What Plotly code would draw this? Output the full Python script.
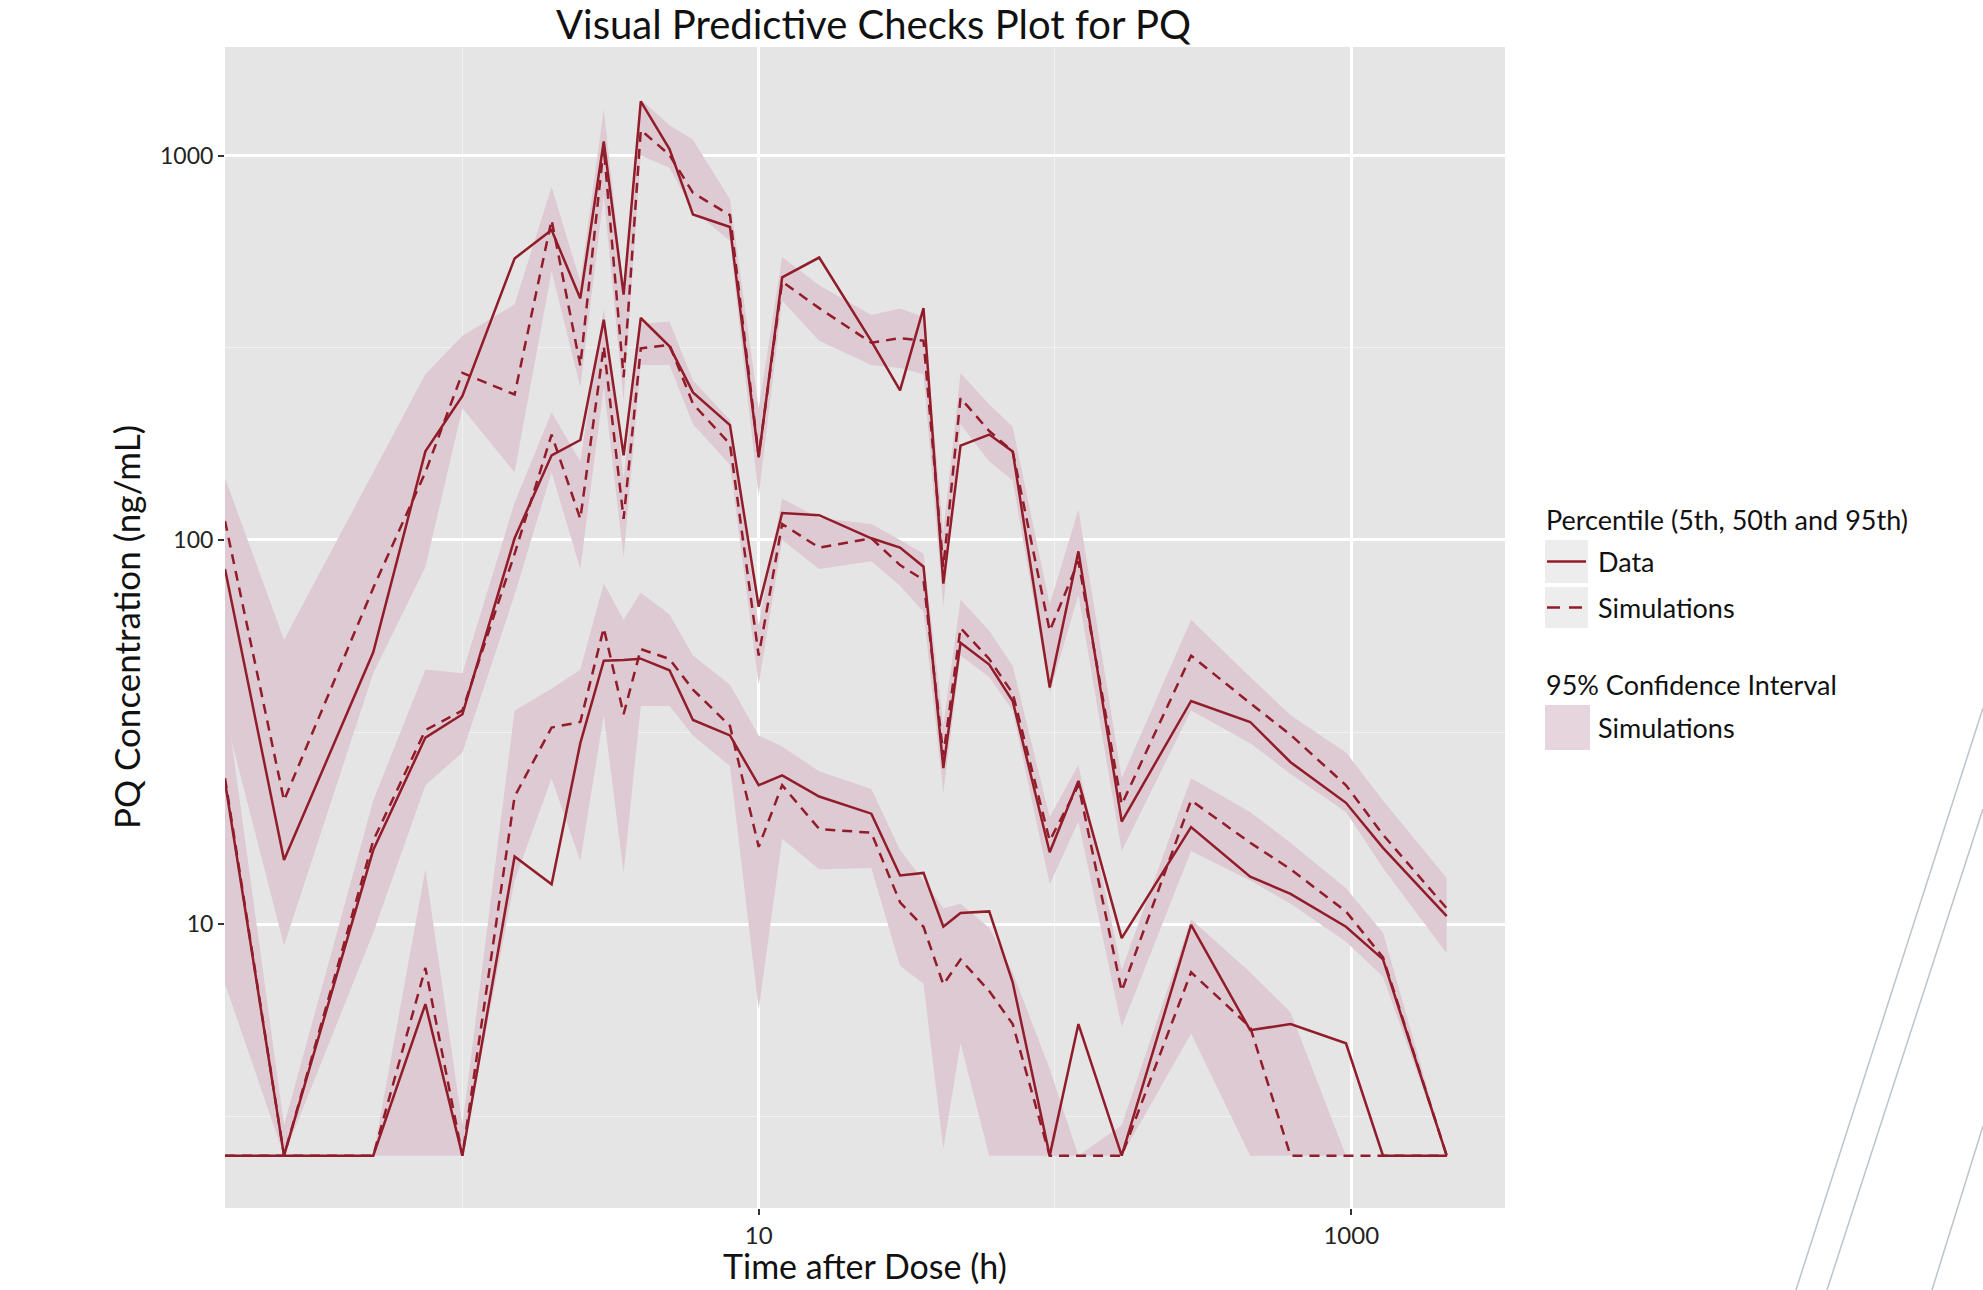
import numpy as np
import plotly.graph_objects as go

# ---------------- data ----------------
time_h = [0.158, 0.25, 0.5, 0.75, 1, 1.5, 2, 2.5, 3, 3.5, 4, 5, 6, 8, 10, 12, 16, 24,
          30, 36, 42, 48, 60, 72, 96, 120, 168, 288, 456, 624, 960, 1280, 2100]

data_p95 = [84, 14.7, 51, 170, 237, 540, 640, 425, 1088, 435, 1384, 1040, 703, 652, 164,
            482, 543, 329, 245, 401, 77, 176, 188, 170, 41.3, 93.4, 18.5, 38.1, 33.6,
            26.4, 20.7, 15.8, 10.5]
sim_p95 = [112, 21, 75, 150, 272, 239, 680, 284, 1052, 265, 1166, 1004, 800, 700, 165,
           470, 401, 326, 335, 330, 85, 234, 192, 170, 58, 88, 20.5, 50, 37.6, 31.1,
           23, 17.1, 11]
data_p50 = [23.5, 2.5, 15.6, 30.6, 35.2, 101, 166, 182, 374, 166, 378, 319, 242, 199, 67,
            117.5, 116, 101, 95.5, 85.2, 25.5, 54, 47.4, 38.1, 15.4, 23.6, 9.2, 17.9,
            13.3, 12.0, 9.85, 8.1, 2.5]
sim_p50 = [24, 2.5, 16.5, 32, 36, 92, 188, 113.5, 319, 113.5, 315, 322, 226, 177.6, 50,
           110, 95.5, 101, 86, 78.7, 27.5, 59, 49, 39.9, 16.5, 23, 6.7, 21, 16.3, 13.9,
           10.8, 8.2, 2.5]
data_p05 = [2.5, 2.5, 2.5, 6.2, 2.5, 15.0, 12.7, 29.6, 48.5, 48.7, 49.1, 45.8, 34, 31, 23,
            24.4, 21.5, 19.4, 13.4, 13.6, 9.85, 10.7, 10.8, 7.06, 2.5, 5.5, 2.5, 9.96,
            5.3, 5.5, 4.9, 2.5, 2.5]
sim_p05 = [2.5, 2.5, 2.5, 7.7, 2.5, 21.5, 32.5, 33.6, 59, 35.2, 52, 49, 40.8, 32.8, 15.9,
           23, 17.7, 17.3, 11.4, 9.85, 6.97, 8.1, 6.7, 5.5, 2.5, 2.5, 2.5, 7.5, 5.4, 2.5,
           2.5, 2.5, 2.5]

ci95_lo = [35, 8.8, 45, 85, 220, 150, 500, 250, 790, 230, 1000, 930, 720, 600, 130, 420,
           330, 285, 280, 270, 67, 200, 160, 143, 40, 72, 15.5, 36, 29.6, 24.6, 19.6, 14, 8.4]
ci95_hi = [145, 55, 150, 270, 340, 410, 830, 470, 1320, 450, 1400, 1200, 1100, 770, 220,
           545, 460, 385, 400, 380, 105, 272, 225, 197, 68, 120, 24, 62, 44, 35, 28, 21, 13.2]
ci50_lo = [7, 2.5, 9.5, 23, 28, 72, 150, 84, 250, 90, 285, 285, 200, 157, 42, 100, 84, 88,
           76, 65, 22, 50, 44, 36, 12.7, 18.5, 5.4, 15.5, 13, 11.3, 9, 7.3, 2.5]
ci50_hi = [40, 3, 21, 46, 45, 125, 215, 160, 400, 145, 365, 370, 260, 205, 60, 128, 114,
           110, 100, 92, 33, 70, 58, 47, 19, 26, 7.6, 24, 19.6, 16.3, 12.4, 9.5, 2.5]
ci05_lo = [2.5, 2.5, 2.5, 2.5, 2.5, 13, 24, 14.6, 35, 13.6, 37, 37, 31, 25.8, 6, 16.7,
           13.9, 14, 7.8, 7, 2.6, 4.9, 2.5, 2.5, 2.5, 2.5, 2.5, 5.2, 2.5, 2.5, 2.5, 2.5, 2.5]
ci05_hi = [2.5, 2.5, 2.5, 13.9, 3, 36, 41, 46, 77, 62, 73, 64, 50, 42, 31, 29, 25, 22.5,
           15.6, 13, 11, 11.3, 9.8, 7.5, 4.2, 2.5, 3, 10.3, 7.5, 5.9, 2.5, 2.5, 2.5]

x_ticks = [10, 1000]
y_ticks = [10, 100, 1000]

# ---------------- styling / layout ----------------
W, H = 1983, 1290
L, R, T, B = 225, 1505, 47, 1208
LINE = "#911C2A"
RIB = "#DECAD3"
PANEL = "#E5E5E5"
FONT = "Lato"
TXT = "#111111"


def px(X):
    return (X - L) / (R - L)


def py(Y):
    return (B - Y) / (B - T)


fig = go.Figure()

for lo, hi in [(ci05_lo, ci05_hi), (ci50_lo, ci50_hi), (ci95_lo, ci95_hi)]:
    fig.add_trace(go.Scatter(x=time_h + time_h[::-1], y=hi + lo[::-1], fill="toself",
                             fillcolor=RIB, mode="lines", line=dict(width=0, color=RIB),
                             hoverinfo="skip", showlegend=False))

for s in [sim_p05, sim_p50, sim_p95]:
    fig.add_trace(go.Scatter(x=time_h, y=s, mode="lines",
                             line=dict(color=LINE, width=2.5, dash="10px,7px"),
                             showlegend=False))
for d in [data_p05, data_p50, data_p95]:
    fig.add_trace(go.Scatter(x=time_h, y=d, mode="lines",
                             line=dict(color=LINE, width=2.5), showlegend=False))

fig.update_xaxes(type="log", range=[np.log10(time_h[0]), 3.519],
                 tickmode="array", tickvals=x_ticks, ticktext=[str(v) for v in x_ticks],
                 showgrid=True, gridcolor="white", gridwidth=2.6,
                 minor=dict(tickmode="array", tickvals=[1, 100], showgrid=True,
                            gridcolor="#F2F2F2", gridwidth=1.3, ticks=""),
                 ticks="outside", ticklen=6, tickwidth=1.5, tickcolor="#333333",
                 tickfont=dict(family=FONT, size=24, color="#222222"),
                 zeroline=False, showline=False)
fig.update_yaxes(type="log", range=[0.2617, 3.2826],
                 tickmode="array", tickvals=y_ticks, ticktext=[str(v) for v in y_ticks],
                 showgrid=True, gridcolor="white", gridwidth=2.6,
                 minor=dict(tickmode="array", tickvals=[10 ** 0.5, 10 ** 1.5, 10 ** 2.5],
                            showgrid=True, gridcolor="#F2F2F2", gridwidth=1.3, ticks=""),
                 ticks="outside", ticklen=6, tickwidth=1.5, tickcolor="#333333",
                 tickfont=dict(family=FONT, size=23, color="#222222"),
                 zeroline=False, showline=False)

shapes = []
annos = []

# titles
annos.append(dict(x=px(873), y=py(24), xref="paper", yref="paper", text="Visual Predictive Checks Plot for PQ",
                  showarrow=False, font=dict(family=FONT, size=40, color=TXT),
                  xanchor="center", yanchor="middle"))
annos.append(dict(x=px(865), y=py(1266), xref="paper", yref="paper", text="Time after Dose (h)",
                  showarrow=False, font=dict(family=FONT, size=34, color=TXT),
                  xanchor="center", yanchor="middle"))
annos.append(dict(x=px(126), y=py(627), xref="paper", yref="paper", text="PQ Concentration (ng/mL)",
                  showarrow=False, textangle=-90, font=dict(family=FONT, size=35, color=TXT),
                  xanchor="center", yanchor="middle"))

# legend (drawn manually, ggplot style)
LFS = 27
annos.append(dict(x=px(1544), y=py(519), xref="paper", yref="paper", text="Percentile (5th, 50th and 95th)",
                  showarrow=False, font=dict(family=FONT, size=LFS, color=TXT),
                  xanchor="left", yanchor="middle"))
for y0, y1, label, dash in [(540, 583, "Data", "solid"), (587, 628, "Simulations", "13px,9px")]:
    shapes.append(dict(type="rect", xref="paper", yref="paper", x0=px(1545), x1=px(1588),
                       y0=py(y1), y1=py(y0), fillcolor="#EDEDED", line=dict(width=0), layer="above"))
    ym = (y0 + y1) / 2
    shapes.append(dict(type="line", xref="paper", yref="paper", x0=px(1547), x1=px(1586),
                       y0=py(ym), y1=py(ym), line=dict(color=LINE, width=2.6, dash=dash), layer="above"))
    annos.append(dict(x=px(1596), y=py(ym), xref="paper", yref="paper", text=label,
                      showarrow=False, font=dict(family=FONT, size=LFS, color=TXT),
                      xanchor="left", yanchor="middle"))
annos.append(dict(x=px(1544), y=py(684), xref="paper", yref="paper", text="95% Confidence Interval",
                  showarrow=False, font=dict(family=FONT, size=LFS, color=TXT),
                  xanchor="left", yanchor="middle"))
shapes.append(dict(type="rect", xref="paper", yref="paper", x0=px(1545), x1=px(1590),
                   y0=py(750), y1=py(705), fillcolor="#E7D5DE", line=dict(width=0), layer="above"))
annos.append(dict(x=px(1596), y=py(727), xref="paper", yref="paper", text="Simulations",
                  showarrow=False, font=dict(family=FONT, size=LFS, color=TXT),
                  xanchor="left", yanchor="middle"))

# decorative slide lines (bottom right)
for (xa, ya, xb, yb) in [(1983, 708, 1796, 1290), (1983, 809, 1827, 1290), (1983, 1126, 1932, 1290)]:
    shapes.append(dict(type="line", xref="paper", yref="paper", x0=px(xa), y0=py(ya),
                       x1=px(xb), y1=py(yb), line=dict(color="#B9C5CD", width=1.5), layer="above"))

fig.update_layout(width=W, height=H, autosize=False,
                  margin=dict(l=L, r=W - R, t=T, b=H - B, pad=0),
                  plot_bgcolor=PANEL, paper_bgcolor="white",
                  showlegend=False, shapes=shapes, annotations=annos,
                  font=dict(family=FONT))

fig.write_html("out.html")
